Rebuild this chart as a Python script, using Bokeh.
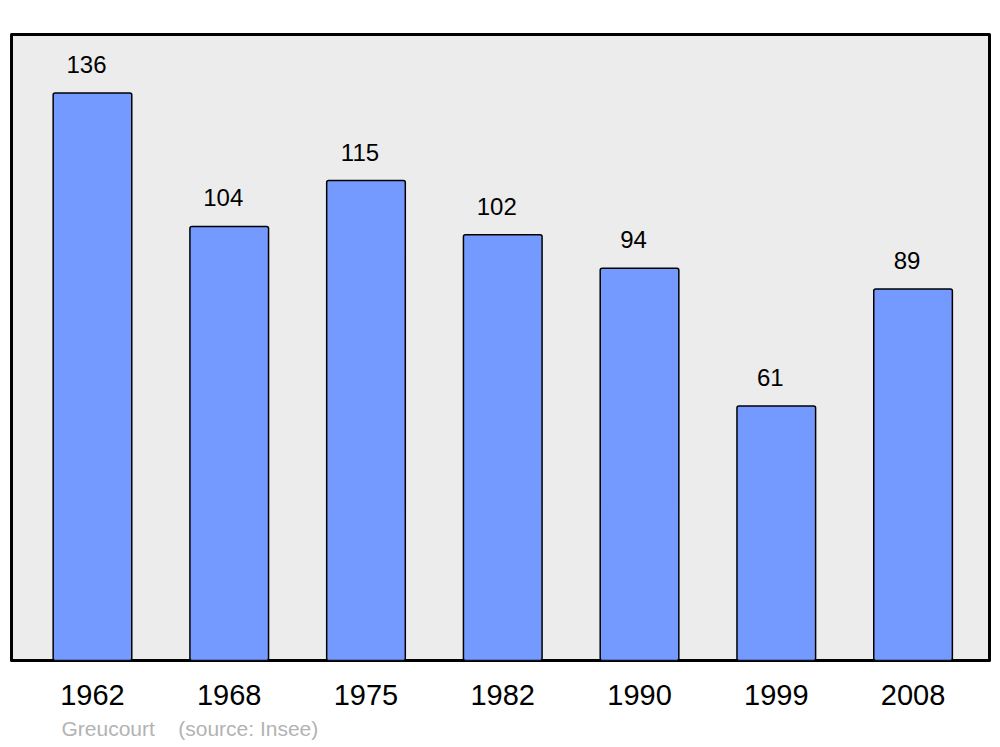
from bokeh.plotting import figure
from bokeh.models import ColumnDataSource, LabelSet, Range1d, FixedTicker, Title
from bokeh.core.properties import value
from bokeh.embed import file_html
from bokeh.resources import INLINE

years = ["1962", "1968", "1975", "1982", "1990", "1999", "2008"]
population = [136, 104, 115, 102, 94, 61, 89]
commune = "Greucourt"
source_note = "(source: Insee)"

xs = list(range(len(years)))
src = ColumnDataSource(dict(x=xs, top=population, label=[str(v) for v in population]))

p = figure(width=1000, height=747, output_backend="svg", toolbar_location=None,
           x_range=Range1d(-0.592, 6.559), y_range=Range1d(0, 150),
           min_border_left=11, min_border_right=11, min_border_top=34, min_border_bottom=87)
p.yaxis.visible = False
p.grid.visible = False
p.background_fill_color = "#ececec"
p.border_fill_color = "white"
p.outline_line_color = "black"
p.outline_line_width = 3
p.outline_line_join = "round"

xa = p.xaxis[0]
xa.ticker = FixedTicker(ticks=xs)
xa.major_label_overrides = {i: y for i, y in zip(xs, years)}
xa.axis_line_color = None
xa.major_tick_line_color = None
xa.minor_tick_line_color = None
xa.major_label_standoff = 18
xa.major_label_text_font = "Liberation Sans"
xa.major_label_text_font_size = "29px"
xa.major_label_text_color = "black"

p.vbar(x="x", top="top", bottom=0, width=0.575, source=src,
       fill_color="#7499ff", line_color="black", line_width=1.5, border_radius=2)

p.add_layout(LabelSet(x="x", y="top", text="label", source=src, x_offset=-6, y_offset=20,
                      text_align="center", text_baseline="alphabetic",
                      text_font=value("Liberation Sans"), text_font_size=value("24px"),
                      text_color="black"))

note = Title(text=commune + "\u00a0\u00a0\u00a0\u00a0" + source_note, align="left", offset=50,
             text_font="Liberation Sans", text_font_size="21px", text_font_style="normal",
             text_color="#b3b3b3", standoff=14)
p.add_layout(note, "below")

open("out.html", "w").write(file_html(p, INLINE))
